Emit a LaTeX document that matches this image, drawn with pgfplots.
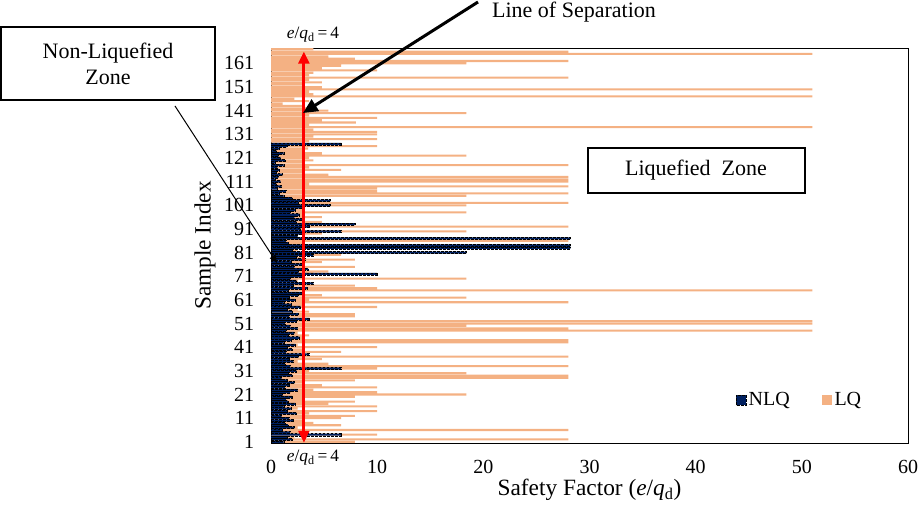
\documentclass[border=0pt]{standalone}
\usepackage{fontspec}
\setmainfont{Liberation Serif}
\usepackage{pgfplots}
\usepackage{pgfplotstable}
\pgfplotsset{compat=1.18}
\usetikzlibrary{arrows.meta}
\definecolor{nlq}{RGB}{0,32,96}
\definecolor{lq}{RGB}{244,177,131}
\newcommand{\lab}{\fontsize{16.5}{19.5}\selectfont}
\newcommand{\axl}{\fontsize{17.5}{20}\selectfont}
\newcommand{\tck}{\fontsize{15}{17}\selectfont}
\pgfplotstableread{
s nlq lq
1 1.2 7.9
2 2.0 28
3 1.5 2.2
4 6.6 10
5 1.8 3
6 1.1 28
7 2.2 2.5
8 1.6 6.6
9 1.3 4
10 2.1 3
11 1.7 6.6
12 1.0 7.9
13 2.4 3.6
14 1.5 10
15 1.9 2.5
16 1.2 10
17 2.3 5.4
18 1.6 7.9
19 1.4 3
20 2.0 7.9
21 1.1 18.4
22 1.8 10
23 2.5 4
24 1.3 10
25 1.7 4.8
26 2.2 3
27 1.5 7.9
28 1.0 28
29 2.0 28
30 1.6 18.4
31 2.4 3.6
32 6.6 10
33 1.8 28
34 1.3 5.4
35 2.1 2.5
36 1.7 4.8
37 2.6 28
38 3.6 2.2
39 1.4 6.6
40 2.0 3
41 1.5 10
42 2.3 2.5
43 1.2 28
44 1.9 28
45 2.7 3
46 1.6 3.6
47 2.2 2.5
48 1.4 51
49 2.5 28
50 1.8 18.4
51 1.3 51
52 2.4 51
53 3.6 3
54 1.7 7.9
55 2.6 7.9
56 2.0 3.6
57 1.5 2.5
58 2.8 10
59 1.9 3
60 1.2 28
61 2.3 3.6
62 1.7 18.4
63 2.6 4.8
64 2.9 2.5
65 1.6 51
66 3.4 10
67 2.1 7.9
68 4.0 3
69 2.4 2.5
70 1.8 18.4
71 3.0 3
72 10.0 4
73 2.6 5.4
74 3.5 3
75 2.2 7.9
76 2.9 2.5
77 1.9 4.8
78 3.2 7.9
79 2.4 3
80 4.0 6.6
81 18.4 2.2
82 2.0 2.5
83 28.2 3
84 28.2 2.5
85 1.6 3
86 1.4 28
87 28.2 3
88 2.5 2.5
89 3.0 4.8
90 6.6 18.4
91 2.8 3
92 3.6 28
93 7.9 4
94 2.4 4.8
95 2.9 2.5
96 2.2 4.8
97 2.7 3
98 1.8 18.4
99 2.3 3
100 3.0 2.5
101 5.6 18.4
102 2.6 28
103 5.6 3.6
104 2.0 3
105 1.2 18.4
106 0.8 28
107 1.4 10
108 0.6 10
109 1.0 28
110 0.5 3.6
111 0.9 28
112 0.4 28
113 0.7 28
114 1.1 5.4
115 0.5 3
116 0.8 6.6
117 0.6 3.6
118 1.2 28
119 0.4 3
120 1.3 4
121 0.9 3.6
122 0.7 18.4
123 1.2 4.8
124 0.5 3
125 0.8 3.5
126 1.5 10
127 6.6 3
128 nan 3.6
129 nan 10
130 nan 4
131 nan 10
132 nan 10
133 nan 4
134 nan 51
135 nan 3.6
136 nan 8
137 nan 4.8
138 nan 10
139 nan 3.6
140 nan 18.4
141 nan 5.4
142 nan 3.6
143 nan 3
144 nan 1.1
145 nan 3.6
146 nan 2.2
147 nan 51
148 nan 4
149 nan 3.6
150 nan 51
151 nan 4.8
152 nan 3
153 nan 4.8
154 nan 3.6
155 nan 28
156 nan 3.6
157 nan 4
158 nan 10
159 nan 4.8
160 nan 6.6
161 nan 18.4
162 nan 28
163 nan 7.9
164 nan 5.4
165 nan 51
166 nan 28
167 nan 4
}\datatab
\begin{document}
\begin{tikzpicture}[x=0.75pt,y=0.75pt]
\path[use as bounding box] (0,0) rectangle (920,510);
\begin{axis}[
  at={(203.25pt,50.25pt)}, anchor=south west,
  scale only axis, width=477.75pt, height=296.25pt,
  xmin=0, xmax=60, ymin=0.5, ymax=167.5,
  xtick={0,10,...,60}, ytick={1,11,...,161},
  major tick length=0pt,
  axis line style={line width=0.6pt},
  /pgf/number format/assume math mode=true,
  every tick label/.append style={font=\tck},
  xticklabel style={anchor=center, inner sep=0pt, yshift=-18pt},
  yticklabel style={anchor=east, inner sep=0pt, xshift=-12.5pt},
  xlabel={Safety Factor (\textit{e}/\textit{q}\textsubscript{d})},
  ylabel={Sample Index},
  xlabel style={font=\axl, at={(axis description cs:0.5,-0.119)}, anchor=center},
  ylabel style={font=\axl, at={(axis description cs:-0.1036,0.5)}, anchor=center},
  reverse legend,
  legend style={at={(0.83,0.109)}, anchor=center, draw=none, fill=none,
    font=\tck, legend columns=2,
    /tikz/every even column/.append style={column sep=22pt}},
  legend image code/.code={\fill[#1] (0pt,-3.75pt) rectangle (7.5pt,3.75pt);},
]
\addplot[xbar, bar width=0.86, bar shift=0, fill=lq, draw=none] table[x=lq, y=s] {\datatab};
\addlegendentry{LQ}
\addplot[xbar, bar width=0.86, bar shift=0, fill=nlq, draw=black, line width=0.35pt, dash pattern=on 2pt off 1pt] table[x=nlq, y=s] {\datatab};
\addlegendentry{NLQ}
\draw[red, line width=2.25pt, {Triangle[length=9pt,width=8pt]}-{Triangle[length=9pt,width=8pt]}] (axis cs:3.1,0.6) -- (axis cs:3.1,166);
\end{axis}
\node[font=\lab] at (574,498) {Line of Separation};
\draw[line width=2.25pt, -{Triangle[length=11pt,width=10pt]}] (478,508) -- (303,397);
\draw[line width=1pt, fill=white] (1,483) rectangle (215,410);
\node[align=center, font=\lab] at (108,446) {Non-Liquefied\\Zone};
\draw[line width=0.75pt, -{Triangle[length=6pt,width=5pt]}] (175,404) -- (277,247);
\draw[line width=1pt, fill=white] (588,362) rectangle (805,317);
\node[font=\lab] at (696,340) {Liquefied\ \ Zone};
\node[font=\fontsize{13}{15}\selectfont] at (313,475) {\textit{e}/\textit{q}\textsubscript{d}\,=\,4};
\node[font=\fontsize{13}{15}\selectfont] at (313,52) {\textit{e}/\textit{q}\textsubscript{d}\,=\,4};
\end{tikzpicture}
\end{document}
